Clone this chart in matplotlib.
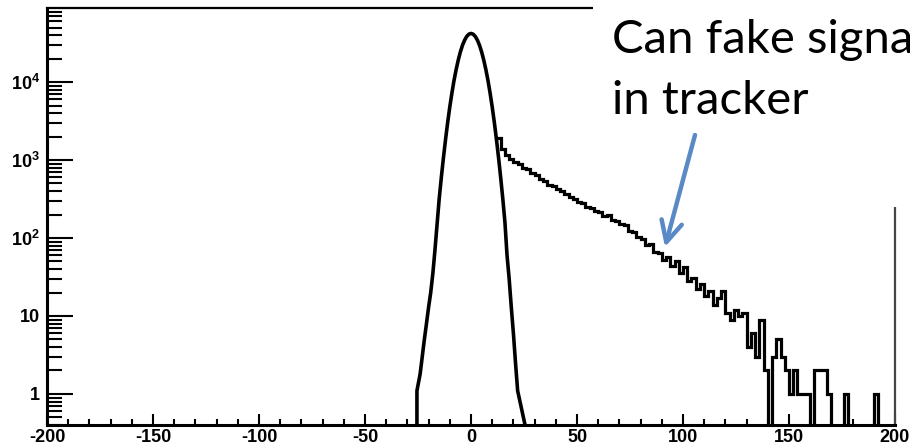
import numpy as np
import matplotlib
matplotlib.use('Agg')
import matplotlib.pyplot as plt
from matplotlib.ticker import FixedLocator, FixedFormatter, LogLocator, MultipleLocator, NullFormatter
from matplotlib.patches import Rectangle, FancyArrowPatch
from matplotlib.transforms import IdentityTransform

plt.rcParams['font.family'] = 'Liberation Sans'
plt.rcParams['axes.unicode_minus'] = False
plt.rcParams['mathtext.fontset'] = 'custom'
plt.rcParams['mathtext.rm'] = 'Liberation Sans:bold'
plt.rcParams['mathtext.bf'] = 'Liberation Sans:bold'

# narrow core (smooth curve)
core_x = [-25.5, -25.5, -24, -23, -22, -21, -20, -19, -18, -17, -16, -15, -14, -13, -12,
          -11, -10, -9, -8, -7, -6, -5, -4, -3, -2, -1, 0, 1, 2, 3, 4, 5, 6, 7, 8, 9,
          10, 11, 12, 13, 14, 15, 16, 17, 18, 19, 20, 21, 22, 25.5]
core_y = [0, 1.1, 1.8, 3, 5, 8, 13, 20, 35, 70, 150, 318, 597, 1070, 1840,
          3040, 4800, 7240, 10500, 14500, 19200, 24400, 29700, 34500, 38500, 41100, 42000,
          41100, 38500, 34500, 29700, 24400, 19200, 14500, 10500, 7240,
          4800, 3040, 1840, 1070, 597, 318, 160, 60, 30, 13, 6, 2.5, 1.1, 0.4]

# tail histogram, 2-unit bins starting at 12
tail_start = 12
tail_width = 2
tail_counts = [1900, 1400, 1150, 1020, 940, 880, 800, 760, 690, 640,
               570, 540, 485, 470, 420, 405, 370, 340, 320, 290,
               278, 252, 245, 222, 215, 192, 200, 172, 166, 152,
               146, 122, 118, 102, 98, 82, 85, 66, 64, 52,
               57, 44, 50, 36, 42, 28, 31, 22, 26, 18,
               21, 14, 17, 21, 11, 9, 12, 10, 11, 4,
               6, 3, 9, 2, 0, 3, 5, 3, 2, 1,
               2, 1, 1, 1, 0, 2, 2, 2, 1, 0,
               0, 0, 1, 0, 0, 0, 0, 0, 0, 1,
               0, 0, 0, 0]
tail_edges = tail_start + tail_width * np.arange(len(tail_counts) + 1)

y_ticks = [1, 10, 100, 1000, 10000]
y_labels = ['1', '10', r'$\mathbf{10^{2}}$', r'$\mathbf{10^{3}}$', r'$\mathbf{10^{4}}$']

fig = plt.figure(figsize=(9.1, 4.48), dpi=100)
ax = fig.add_axes([47 / 910, 23 / 448, 848 / 910, 417 / 448])

ax.plot(core_x, core_y, color='black', lw=2.6, solid_joinstyle='round')
ax.stairs(tail_counts, tail_edges, baseline=None, color='black', lw=2.3)

ax.set_yscale('log')
ax.set_xlim(-200, 200)
ax.set_ylim(0.4, 8.9e4)

ax.xaxis.set_major_locator(MultipleLocator(50))
ax.xaxis.set_minor_locator(MultipleLocator(10))
ax.yaxis.set_major_locator(FixedLocator(y_ticks))
ax.yaxis.set_major_formatter(FixedFormatter(y_labels))
ax.yaxis.set_minor_locator(LogLocator(base=10, subs=range(2, 10)))
ax.yaxis.set_minor_formatter(NullFormatter())

ax.tick_params(axis='x', which='major', direction='in', length=8, width=1.5, pad=3, labelsize=13)
ax.tick_params(axis='x', which='minor', direction='in', length=4.5, width=1.5)
ax.tick_params(axis='y', which='major', direction='in', length=19, width=1.5, pad=5, labelsize=13)
ax.tick_params(axis='y', which='minor', direction='in', length=10.5, width=1.5)
for lab in ax.get_xticklabels() + ax.get_yticklabels():
    lab.set_fontweight('bold')

ax.spines['left'].set_linewidth(2.2)
ax.spines['bottom'].set_linewidth(2.2)
ax.spines['top'].set_linewidth(1.6)
ax.spines['right'].set_linewidth(1.6)
ax.spines['right'].set_color('#444444')

# white text box covering the upper right corner
fig.patches.append(Rectangle((593 / 910, (448 - 207) / 448), 1, 1, transform=fig.transFigure,
                             facecolor='white', edgecolor='none', zorder=5))
fig.text(612 / 910, 1 - 19 / 448, 'Can fake signals\nin tracker', family='Lato',
         fontsize=34, va='top', ha='left', linespacing=1.55, zorder=6)

arrow = FancyArrowPatch((695, 448 - 135), (665, 448 - 247), transform=IdentityTransform(),
                        arrowstyle='->,head_length=1.5,head_width=0.75', mutation_scale=10,
                        color='#5A8AC6', lw=3.2, shrinkA=0, shrinkB=0, zorder=7)
fig.add_artist(arrow)

fig.savefig('out.png', dpi=100)
